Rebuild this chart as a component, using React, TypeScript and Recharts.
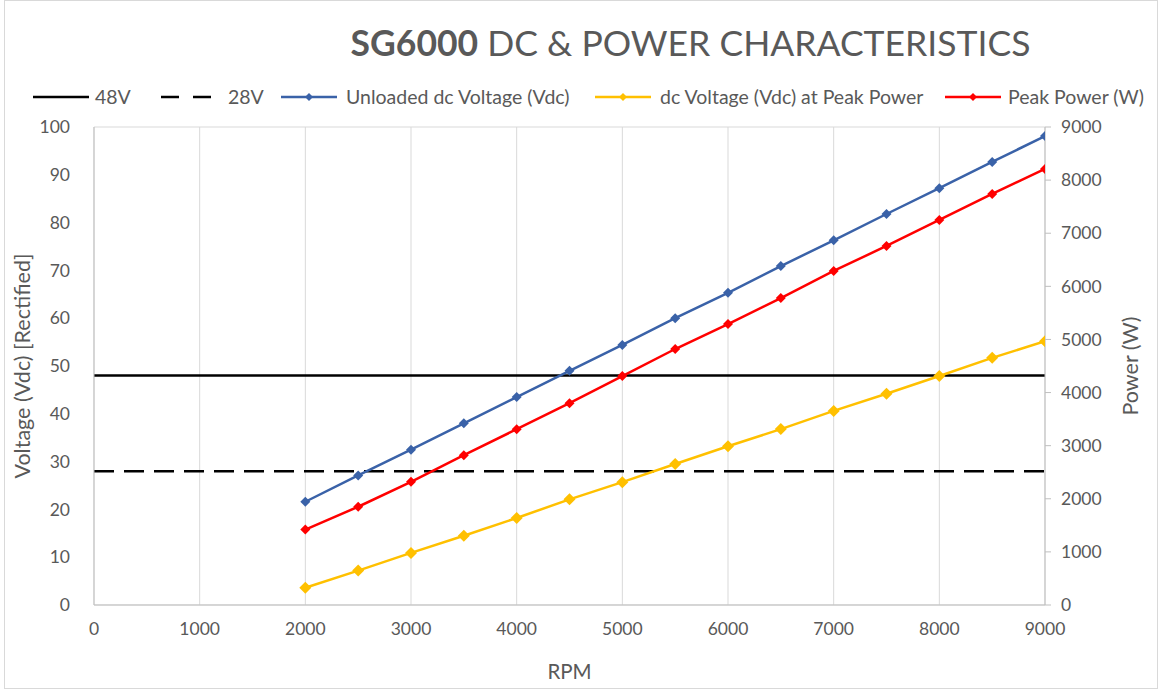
import {
  LineChart,
  Line,
  XAxis,
  YAxis,
  CartesianGrid,
} from "recharts";

const rpm = [2000, 2500, 3000, 3500, 4000, 4500, 5000, 5500, 6000, 6500, 7000, 7500, 8000, 8500, 9000];
const unloadedVdc = [21.6, 27.1, 32.5, 38, 43.5, 49, 54.4, 60, 65.3, 70.9, 76.3, 81.8, 87.2, 92.7, 98.1];
const peakVdc = [3.6, 7.2, 10.9, 14.5, 18.2, 22.1, 25.7, 29.5, 33.2, 36.8, 40.6, 44.2, 47.9, 51.7, 55.2];
const peakPower = [1420, 1850, 2320, 2820, 3310, 3800, 4310, 4820, 5290, 5780, 6290, 6760, 7250, 7740, 8210];
const rpmTicks = [0, 1000, 2000, 3000, 4000, 5000, 6000, 7000, 8000, 9000];
const voltTicks = [0, 10, 20, 30, 40, 50, 60, 70, 80, 90, 100];
const powerTicks = [0, 1000, 2000, 3000, 4000, 5000, 6000, 7000, 8000, 9000];
const line48 = [{ rpm: 0, v: 48 }, { rpm: 9000, v: 48 }];
const line28 = [{ rpm: 0, v: 28 }, { rpm: 9000, v: 28 }];

const data = rpm.map((r, i) => ({
  rpm: r,
  unloaded: unloadedVdc[i],
  peakV: peakVdc[i],
  power: peakPower[i],
}));

const FONT = "Lato, 'Open Sans', sans-serif";
const GREY = "#595959";
const BLUE = "#3a62a8";
const YELLOW = "#ffc000";
const RED = "#ff0000";
const TICK = { fontSize: 17.5, fill: GREY, fontFamily: FONT };

const Diamond = (color: string, r: number) => (props: any) => {
  const { cx, cy, index } = props;
  if (cx == null || cy == null) return <g key={index} />;
  return (
    <polygon
      key={index}
      points={`${cx},${cy - r} ${cx + r},${cy} ${cx},${cy + r} ${cx - r},${cy}`}
      fill={color}
    />
  );
};

const legendItems = [
  { name: "48V", color: "#000", dash: "", marker: false, x: 33, tx: 95 },
  { name: "28V", color: "#000", dash: "18 14", marker: false, x: 161, tx: 228 },
  { name: "Unloaded dc Voltage (Vdc)", color: BLUE, dash: "", marker: true, x: 281, tx: 346 },
  { name: "dc Voltage (Vdc) at Peak Power", color: YELLOW, dash: "", marker: true, x: 595, tx: 660 },
  { name: "Peak Power (W)", color: RED, dash: "", marker: true, x: 945, tx: 1008 },
];

function CustomLegend() {
  const y = 97;
  return (
    <svg width={1159} height={30} style={{ position: "absolute", left: 0, top: y - 15 }}>
      {legendItems.map((it) => (
        <g key={it.name}>
          <line
            x1={it.x}
            x2={it.x + 56}
            y1={15}
            y2={15}
            stroke={it.color}
            strokeWidth={2.5}
            strokeDasharray={it.dash}
          />
          {it.marker && (
            <polygon
              points={`${it.x + 28},${11} ${it.x + 32},${15} ${it.x + 28},${19} ${it.x + 24},${15}`}
              fill={it.color}
            />
          )}
          <text x={it.tx} y={22} fontSize={19.5} fill={GREY} fontFamily={FONT}>
            {it.name}
          </text>
        </g>
      ))}
    </svg>
  );
}

export default function App() {
  return (
    <div
      style={{
        position: "absolute",
        left: 0,
        top: 0,
        width: 1159,
        height: 690,
        background: "#fff",
        fontFamily: FONT,
      }}
    >
      <div
        style={{
          position: "absolute",
          left: 4,
          top: 0,
          width: 1154,
          height: 689,
          border: "1px solid #d9d9d9",
          boxSizing: "border-box",
        }}
      />
      <div
        style={{
          position: "absolute",
          left: 0,
          top: 21,
          width: 1159,
          textAlign: "center",
          paddingLeft: 222,
          boxSizing: "border-box",
          fontSize: 35.5,
          color: GREY,
          fontFamily: FONT,
        }}
      >
        <span style={{ fontWeight: "bold" }}>SG6000</span> DC &amp; POWER CHARACTERISTICS
      </div>
      <CustomLegend />
      <div style={{ position: "absolute", left: 0, top: 0 }}>
        <LineChart
          width={1159}
          height={690}
          data={data}
          margin={{ top: 127, right: 0, bottom: 0, left: 0 }}
        >
          <CartesianGrid stroke="#d9d9d9" strokeWidth={1} />
          <XAxis
            dataKey="rpm"
            type="number"
            domain={[0, 9000]}
            ticks={rpmTicks}
            allowDataOverflow
            tickLine={false}
            axisLine={{ stroke: "#bfbfbf" }}
            tick={TICK}
            tickMargin={12}
            height={85}
            label={{
              value: "RPM",
              position: "insideBottom",
              offset: 11,
              fontSize: 20.5,
              fill: GREY,
              fontFamily: FONT,
            }}
          />
          <YAxis
            yAxisId="v"
            domain={[0, 100]}
            ticks={voltTicks}
            width={94}
            tickLine={false}
            axisLine={{ stroke: "#bfbfbf" }}
            tick={TICK}
            tickMargin={18}
            label={{
              value: "Voltage (Vdc) [Rectified]",
              angle: -90,
              position: "insideLeft",
              offset: 22,
              style: { textAnchor: "middle" },
              fontSize: 21.5,
              fill: GREY,
              fontFamily: FONT,
            }}
          />
          <YAxis
            yAxisId="p"
            orientation="right"
            domain={[0, 9000]}
            ticks={powerTicks}
            width={114}
            tickLine={{ stroke: "#bfbfbf" }}
            tickSize={6}
            axisLine={{ stroke: "#bfbfbf" }}
            tick={TICK}
            tickMargin={10}
            label={{
              value: "Power (W)",
              angle: -90,
              position: "insideRight",
              offset: 29,
              style: { textAnchor: "middle" },
              fontSize: 21.5,
              fill: GREY,
              fontFamily: FONT,
            }}
          />
          <Line
            yAxisId="v"
            data={line48}
            dataKey="v"
            stroke="#000"
            strokeWidth={2.5}
            dot={false}
            isAnimationActive={false}
          />
          <Line
            yAxisId="v"
            data={line28}
            dataKey="v"
            stroke="#000"
            strokeWidth={2.5}
            strokeDasharray="20 10"
            dot={false}
            isAnimationActive={false}
          />
          <Line
            yAxisId="v"
            dataKey="unloaded"
            stroke={BLUE}
            strokeWidth={2.5}
            dot={Diamond(BLUE, 5)}
            isAnimationActive={false}
          />
          <Line
            yAxisId="v"
            dataKey="peakV"
            stroke={YELLOW}
            strokeWidth={2.5}
            dot={Diamond(YELLOW, 6)}
            isAnimationActive={false}
          />
          <Line
            yAxisId="p"
            dataKey="power"
            stroke={RED}
            strokeWidth={2.5}
            dot={Diamond(RED, 5)}
            isAnimationActive={false}
          />
        </LineChart>
      </div>
    </div>
  );
}
